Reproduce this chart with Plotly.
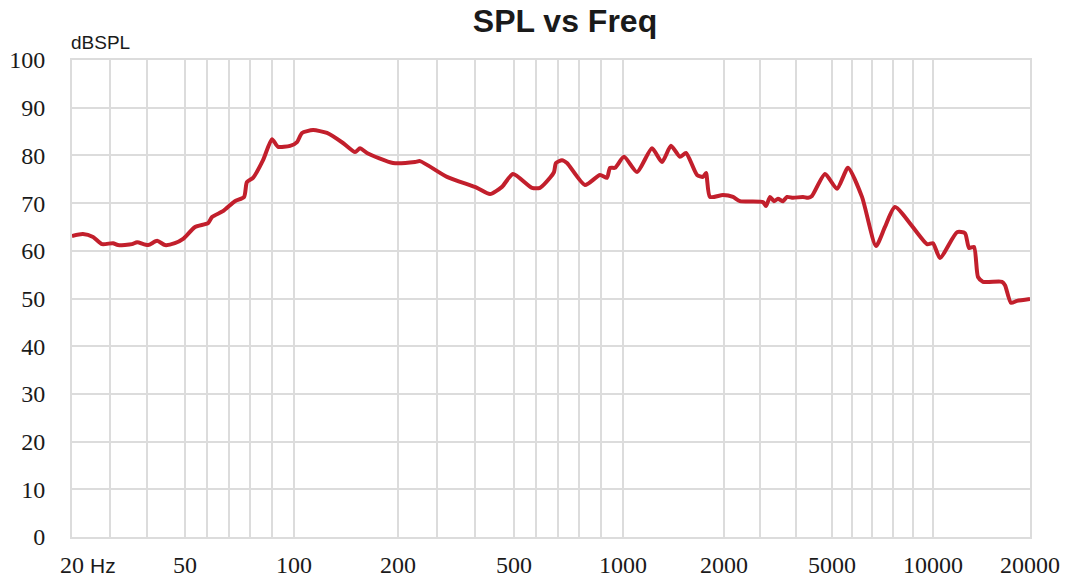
import numpy as np
import plotly.graph_objects as go

# Axis definition: labelled frequencies and their position along the (custom, piecewise-linear) axis
axis_freqs = [20, 50, 100, 200, 500, 1000, 2000, 5000, 10000, 20000]
axis_units = [72, 185, 294, 398, 514, 623, 724, 832, 933, 1030]
tick_labels = ["20", "50", "100", "200", "500", "1000", "2000", "5000", "10000", "20000"]
grid_freqs = [20, 30, 40, 50, 60, 70, 80, 90, 100, 200, 300, 400, 500, 600, 700, 800, 900,
              1000, 2000, 3000, 4000, 5000, 6000, 7000, 8000, 9000, 10000, 20000]

# Measured response
freq_hz = [20, 22.9, 25.6, 28.0, 30.9, 32.2, 35.9, 37.3, 40.2, 42.6, 44.7, 47.3, 49.5,
           54.6, 60.6, 62.4, 67.4, 72.9, 77.1, 78.4, 81.2, 85.8, 89.9, 92.7, 98.2,
           102.9, 107.7, 118.3, 131.7, 147.1, 158.7, 163.5, 170.2, 195.2,
           244, 256.9, 326.7, 404.3, 437.9, 468.9, 497.4,
           582.6, 619.3, 665.1, 683.5, 692.7, 720.2, 743.1, 825.7, 894.5, 926.6, 940.4, 963.3,
           1010, 1139, 1287, 1386, 1475, 1564, 1624, 1733, 1792, 1822, 1861, 1990,
           2250, 2444, 3083, 3167, 3278, 3389, 3500, 3639, 3750, 3917, 4194, 4333, 4444, 4806,
           5248, 5792, 6485, 7178, 7624, 8119, 9703,
           10000, 10722, 12474, 13299, 13711, 14227, 14639, 15155, 17113, 17423, 18041, 18660, 20000]
spl_db = [63.1, 63.5, 62.9, 61.4, 61.6, 61.2, 61.4, 61.8, 61.2, 62.1, 61.2, 61.6, 62.5,
          65.0, 65.8, 67.1, 68.3, 70.4, 71.3, 74.4, 75.3, 79.0, 83.4, 81.8, 82.0,
          82.8, 84.7, 85.3, 84.7, 82.6, 80.7, 81.5, 80.5, 78.4,
          78.6, 78.8, 75.5, 73.2, 71.9, 73.4, 76.1,
          73.2, 73.2, 75.3, 76.5, 78.4, 79.0, 78.4, 73.8, 75.9, 75.3, 77.4, 77.4,
          79.7, 76.5, 81.5, 78.6, 82.0, 79.7, 80.5, 75.9, 75.5, 76.3, 71.3, 71.7,
          71.3, 70.4, 70.2, 69.4, 71.3, 70.4, 70.9, 70.4, 71.3, 71.1, 71.3, 71.1, 71.5, 76.1,
          73.0, 77.4, 71.3, 61.0, 65.0, 69.2, 61.4,
          61.6, 58.5, 63.9, 63.7, 60.6, 60.8, 54.5, 53.5, 53.5, 52.8, 49.1, 49.5, 49.9]


def to_axis(f):
    return np.interp(np.asarray(f, dtype=float), axis_freqs, axis_units)


label_map = dict(zip(axis_freqs, tick_labels))
grid_pos = to_axis(grid_freqs)
grid_text = [label_map.get(f, "") for f in grid_freqs]

fig = go.Figure()
fig.add_trace(go.Scatter(
    x=to_axis(freq_hz), y=spl_db, mode="lines",
    line=dict(color="#c21f2c", width=4, shape="spline", smoothing=0.6),
    hoverinfo="skip", showlegend=False,
))

serif = "Liberation Serif, Times New Roman, serif"
sans = "Liberation Sans, Arial, sans-serif"
grid_col = "#dcdcdc"

fig.update_layout(
    width=1067, height=581,
    margin=dict(l=72, r=37, t=60, b=44, autoexpand=False),
    paper_bgcolor="white", plot_bgcolor="white",
    title=dict(text="<b>SPL vs Freq</b>", x=565 / 1067, xanchor="center",
               y=1 - 21 / 581, yanchor="middle",
               font=dict(family=sans, size=32, color="#1a1a1a")),
    xaxis=dict(range=[axis_units[0], axis_units[-1]], tickmode="array",
               tickvals=grid_pos, ticktext=grid_text, showgrid=True,
               gridcolor=grid_col, gridwidth=2, zeroline=False,
               showline=True, mirror=True, linecolor=grid_col, linewidth=2,
               ticks="", ticklabelstandoff=5,
               tickfont=dict(family=serif, size=24, color="#1a1a1a")),
    yaxis=dict(range=[0, 100], dtick=10, showgrid=True, gridcolor=grid_col,
               gridwidth=2, zeroline=False,
               showline=True, mirror=True, linecolor=grid_col, linewidth=2,
               ticks="", ticklabelstandoff=20,
               tickfont=dict(family=serif, size=24, color="#1a1a1a")),
    annotations=[
        dict(text="dBSPL", xref="paper", yref="paper", x=-3 / 958, y=1 + 17 / 477,
             xanchor="left", yanchor="middle", showarrow=False,
             font=dict(family=sans, size=19, color="#1a1a1a")),
        dict(text="Hz", xref="x", yref="paper", x=axis_units[0], y=0,
             xanchor="left", yanchor="middle", xshift=16, yshift=-28, showarrow=False,
             font=dict(family=sans, size=21, color="#1a1a1a")),
    ],
)

fig.write_html("out.html", config={"displayModeBar": False},
               post_script="document.body.style.margin='0';")
